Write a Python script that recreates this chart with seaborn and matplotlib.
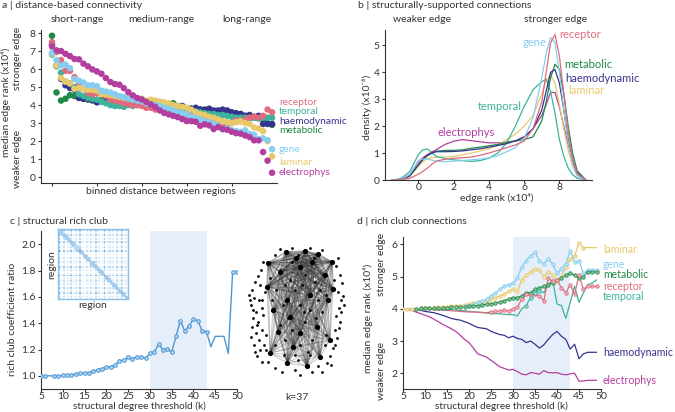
import numpy as np
import pandas as pd
import matplotlib
matplotlib.use('Agg')
import matplotlib.pyplot as plt
import matplotlib.colors as mcolors
import seaborn as sns
from itertools import combinations

W, H = 675, 412

# ---------------- data ----------------
maps = ['receptor', 'temporal', 'haemodynamic', 'metabolic', 'gene', 'laminar', 'electrophys']
colors = {'receptor': '#e06b7d', 'temporal': '#3db39b', 'haemodynamic': '#36338f',
          'metabolic': '#1f8a48', 'gene': '#86cdf0', 'laminar': '#e8c96b',
          'electrophys': '#b23f9f'}

# panel a: median edge rank per distance bin (x10^4)
dist_bin = list(range(50))
a_receptor = [7.5, 6.95, 6.5, 5.9, 5.9, 5.55, 5.2, 4.9, 4.7, 4.6, 4.65, 4.7, 4.5, 4.3, 4.25, 4.2, 4.1,
              4.05, 4.0, 4.0, 3.95, 3.85, 3.85, 3.75, 3.8, 3.65, 3.55, 3.5, 3.4, 3.35, 3.3, 3.45, 3.45,
              3.3, 3.2, 3.15, 3.05, 3.0, 2.95, 2.85, 3.0, 3.15, 3.1, 3.2, 3.3, 3.35, 3.3, 3.4, 3.75, 3.6]
a_temporal = [6.8, 6.15, 5.8, 5.3, 5.2, 5.0, 4.6, 4.5, 4.4, 4.35, 4.3, 4.2, 4.1, 4.0, 3.95, 3.95, 3.9,
              4.0, 3.95, 4.0, 4.05, 4.0, 4.0, 3.95, 3.9, 3.95, 3.85, 3.8, 3.75, 3.75, 3.7, 3.7, 3.65,
              3.6, 3.55, 3.5, 3.5, 3.45, 3.45, 3.4, 3.35, 3.3, 3.3, 3.3, 3.25, 3.3, 3.25, 3.3, 3.3, 3.3]
a_haemodynamic = [7.35, 6.2, 5.45, 5.1, 4.95, 4.85, 4.4, 4.35, 4.35, 4.3, 4.15, 4.2, 4.3, 4.2, 4.2, 4.15,
                  4.1, 4.15, 4.2, 4.1, 4.0, 4.0, 4.05, 4.0, 4.0, 3.95, 3.95, 4.0, 3.9, 3.95, 3.8, 3.8,
                  3.85, 3.75, 3.75, 3.8, 3.7, 3.7, 3.75, 3.7, 3.6, 3.55, 3.5, 3.4, 3.45, 3.35, 3.4,
                  2.95, 2.95, 2.95]
a_metabolic = [7.85, 4.7, 4.25, 4.35, 4.55, 4.5, 4.4, 4.35, 4.3, 4.25, 4.25, 4.3, 4.35, 4.3, 4.25, 4.2,
               4.15, 4.1, 4.1, 4.05, 4.1, 4.05, 4.0, 4.0, 3.95, 3.95, 4.05, 4.1, 3.95, 3.85, 3.8, 3.8,
               3.75, 3.75, 3.7, 3.7, 3.65, 3.6, 3.6, 3.55, 3.55, 3.5, 3.5, 3.4, 3.35, 3.3, 3.3, 3.2,
               3.0, 2.9]
a_gene = [6.9, 6.5, 6.2, 6.25, 6.05, 5.45, 5.35, 5.25, 5.1, 5.1, 5.05, 4.8, 4.75, 4.7, 4.6, 4.5, 4.45,
          4.35, 4.3, 4.25, 4.2, 4.1, 4.05, 4.0, 3.95, 3.85, 3.8, 3.7, 3.6, 3.55, 3.5, 3.35, 3.3, 3.2,
          3.1, 3.05, 2.95, 2.85, 2.65, 2.7, 2.6, 2.55, 2.5, 2.6, 2.4, 2.35, 2.1, 2.15, 2.05, 1.55]
a_laminar = [6.85, 6.2, 5.5, 5.3, 5.2, 4.9, 4.95, 4.9, 4.85, 4.85, 4.8, 4.6, 4.6, 4.55, 4.5, 4.45, 4.4,
             4.4, 4.35, 4.3, 4.35, 4.25, 4.3, 4.25, 4.2, 4.15, 4.1, 4.0, 3.95, 3.9, 3.85, 3.75, 3.6,
             3.5, 3.45, 3.35, 3.3, 3.2, 3.1, 3.05, 3.0, 3.05, 3.1, 3.0, 2.95, 2.75, 2.7, 2.55, 2.0, 1.15]
a_electrophys = [7.26, 7.04, 7.0, 6.85, 6.72, 6.56, 6.54, 6.3, 6.15, 5.98, 5.87, 5.74, 5.5, 5.28, 5.17,
                 5.13, 4.94, 4.72, 4.54, 4.39, 4.31, 4.17, 4.04, 3.9, 3.7, 3.56, 3.48, 3.4, 3.33, 3.22,
                 3.11, 3.11, 3.07, 2.85, 2.93, 2.87, 2.67, 2.78, 2.67, 2.63, 2.52, 2.44, 2.41, 2.31,
                 2.22, 2.04, 2.04, 1.39, 0.91, 0.24]

# panel b: density of edge rank for structurally-supported edges (x10^-6)
edge_rank = [-1.5, -1, -0.5, 0, 0.25, 0.5, 0.75, 1, 1.5, 2, 2.5, 3, 3.5, 4, 4.5, 5, 5.5, 6, 6.5,
             7, 7.25, 7.5, 7.75, 8, 8.25, 8.5, 8.75, 9, 9.5]
b_receptor = [0, 0.01, 0.06, 0.22, 0.32, 0.44, 0.58, 0.7, 0.77, 0.81, 0.83, 0.85, 0.92, 1.0, 1.1,
              1.2, 1.3, 1.45, 1.9, 2.9, 4.0, 5.1, 5.4, 4.6, 3.2, 1.8, 0.8, 0.25, 0.0]
b_gene = [0, 0.02, 0.2, 0.72, 0.78, 0.78, 0.74, 0.7, 0.68, 0.7, 0.72, 0.75, 0.78, 0.82, 0.9, 1.05,
          1.2, 1.55, 2.3, 3.8, 4.7, 5.3, 5.1, 4.0, 2.6, 1.4, 0.6, 0.15, 0.0]
b_metabolic = [0, 0.02, 0.15, 0.56, 0.75, 0.9, 1.0, 1.07, 1.1, 1.1, 1.12, 1.18, 1.22, 1.27, 1.32,
               1.4, 1.45, 1.5, 1.6, 2.2, 2.9, 3.8, 4.3, 4.1, 3.2, 2.0, 1.0, 0.35, 0.0]
b_haemodynamic = [0, 0.02, 0.15, 0.58, 0.78, 0.92, 1.0, 1.05, 1.05, 1.06, 1.08, 1.12, 1.16, 1.22,
                  1.28, 1.35, 1.45, 1.6, 1.9, 2.6, 3.3, 4.0, 4.1, 3.6, 2.6, 1.5, 0.7, 0.25, 0.0]
b_laminar = [0, 0.02, 0.12, 0.5, 0.68, 0.8, 0.83, 0.84, 0.86, 0.88, 0.93, 1.0, 1.08, 1.16, 1.3, 1.5,
             1.7, 2.0, 2.4, 3.2, 3.7, 3.9, 3.6, 2.8, 1.9, 1.1, 0.5, 0.2, 0.0]
b_temporal = [0, 0.05, 0.31, 0.95, 1.12, 1.15, 1.02, 0.88, 0.8, 0.75, 0.72, 0.69, 0.72, 0.81, 1.0,
              1.37, 2.0, 2.73, 3.35, 3.65, 3.74, 3.28, 2.48, 1.5, 0.88, 0.44, 0.2, 0.07, 0.0]
b_electrophys = [0, 0.02, 0.2, 0.69, 0.82, 0.94, 1.04, 1.12, 1.32, 1.44, 1.5, 1.46, 1.42, 1.38, 1.38,
                 1.4, 1.45, 1.6, 1.9, 2.4, 2.8, 3.25, 3.25, 2.7, 2.0, 1.3, 0.7, 0.3, 0.0]

# panel c: structural rich club coefficient ratio
degree_k = list(range(5, 51))
rc_ratio = [1.0, 1.0, 1.0, 1.0, 1.0, 1.003, 1.005, 1.008, 1.013, 1.018, 1.02, 1.025, 1.035, 1.045,
            1.055, 1.065, 1.07, 1.08, 1.115, 1.12, 1.14, 1.13, 1.145, 1.14, 1.135, 1.17, 1.18, 1.24,
            1.2, 1.205, 1.18, 1.3, 1.42, 1.34, 1.38, 1.43, 1.42, 1.34, 1.335, 1.22, 1.3, 1.3, 1.3,
            1.17, 1.79, 1.79]
rc_marked = [k for k in degree_k if k != 7 and not (44 <= k <= 48)]

# inset connectivity matrix (node strengths)
node_strength = [0.9, 0.2, 0.1, 0.5, 0.1, 0.3, 0.05, 0.6, 0.1, 0.2, 0.4, 0.1, 0.7, 0.1, 0.2, 0.05,
                 0.3, 0.1, 0.5, 0.2, 0.1, 0.6, 0.1, 0.3, 0.05, 0.2, 0.8, 0.1, 0.2, 0.4, 0.1, 0.3,
                 0.05, 0.5, 0.1, 0.2, 0.6, 0.1, 0.3, 0.2]

# rich club network at k=37 (node layout, pixel-like units)
hub_x = [268, 286, 305, 318, 332, 325, 267, 333, 328, 287, 300, 310, 290, 278, 317, 300, 330, 270,
         287, 307, 320, 293, 273, 296, 312, 280]
hub_y = [263, 252, 251, 254, 262, 275, 287, 289, 300, 300, 267, 295, 317, 332, 327, 333, 340, 353,
         363, 366, 357, 347, 310, 258, 262, 272]
other_x = [252, 254, 251, 256, 253, 258, 252, 256, 259, 254, 260, 257, 262, 250, 255, 258, 261, 263,
           260, 262, 263, 262, 264, 275, 280, 292, 298, 310, 314, 322, 338, 336, 340, 342, 338, 341,
           339, 336, 340, 335, 337, 333, 330, 327, 275, 282, 295, 300, 312, 318, 268, 280, 292, 305,
           315, 320, 285, 295, 300, 310, 322, 280, 292, 305, 312, 300, 285, 275, 295, 310, 325, 290,
           318, 302, 283, 249, 253, 257, 251, 255, 259, 265, 266, 343, 341, 344, 339, 335, 331, 272,
           288, 304, 316, 326, 284, 298, 308, 276, 262, 266, 270, 322, 326, 334]
other_y = [290, 298, 305, 312, 318, 322, 327, 333, 340, 345, 350, 356, 362, 300, 282, 276, 270, 262,
           285, 300, 315, 330, 345, 255, 249, 248, 255, 248, 258, 250, 258, 266, 275, 283, 292, 300,
           308, 316, 322, 330, 338, 348, 356, 363, 368, 372, 370, 375, 372, 366, 362, 270, 262, 275,
           282, 290, 285, 290, 305, 310, 312, 325, 330, 322, 340, 345, 340, 345, 355, 355, 345, 280,
           300, 285, 305, 295, 310, 325, 337, 352, 300, 292, 335, 296, 312, 305, 328, 345, 365, 300,
           318, 312, 318, 295, 355, 360, 352, 290, 308, 350, 278, 372, 335, 280]

# panel d: rich club connections, median edge rank (x10^4)
d_k = list(range(5, 50))
d_laminar = [4.0, 4.0, 4.0, 4.0, 4.01, 4.02, 4.03, 4.04, 4.05, 4.06, 4.07, 4.08, 4.1, 4.1, 4.12,
             4.14, 4.18, 4.2, 4.22, 4.25, 4.3, 4.35, 4.4, 4.45, 4.55, 4.6, 4.55, 4.9, 5.05, 5.15,
             5.25, 5.2, 5.0, 5.15, 5.05, 4.85, 5.0, 5.3, 5.55, 5.65, 6.05, 5.9, 5.9, 5.9, 5.9]
d_gene = [4.0, 4.0, 4.0, 4.0, 4.0, 4.01, 4.01, 4.02, 4.03, 4.04, 4.05, 4.06, 4.07, 4.08, 4.09, 4.1,
          4.15, 4.2, 4.25, 4.3, 4.4, 4.5, 4.6, 4.7, 4.75, 4.8, 4.95, 5.3, 5.5, 5.65, 5.75, 5.5, 5.4,
          5.55, 5.4, 5.1, 5.25, 5.4, 5.8, 5.45, 5.5, 5.1, 5.2, 5.2, 5.2]
d_metabolic = [4.0, 4.0, 4.0, 4.0, 4.01, 4.02, 4.02, 4.03, 4.03, 4.04, 4.04, 4.05, 4.06, 4.07, 4.07,
               4.08, 4.09, 4.1, 4.12, 4.14, 4.15, 4.18, 4.21, 4.25, 4.3, 4.35, 4.35, 4.4, 4.5, 4.5,
               4.6, 4.65, 4.7, 4.75, 4.8, 4.9, 4.95, 5.05, 5.1, 5.05, 4.95, 5.0, 5.15, 5.15, 5.15]
d_receptor = [4.0, 4.0, 4.0, 3.99, 3.99, 3.98, 3.98, 3.97, 3.96, 3.96, 3.95, 3.94, 3.93, 3.92, 3.91,
              3.9, 3.9, 3.89, 3.89, 3.88, 3.9, 3.92, 3.93, 3.95, 3.93, 4.0, 4.05, 4.3, 4.45, 4.4,
              4.45, 4.4, 4.25, 4.95, 4.85, 4.9, 4.65, 4.5, 4.75, 4.45, 5.05, 4.6, 4.7, 4.7, 4.7]
d_temporal = [4.0, 4.0, 4.0, 4.0, 4.0, 4.0, 4.0, 3.99, 3.99, 3.98, 3.98, 3.97, 3.96, 3.95, 3.94,
              3.92, 3.91, 3.9, 3.88, 3.87, 3.85, 3.85, 3.84, 3.83, 3.82, 3.82, 3.78, 4.0, 4.1, 4.35,
              4.5, 4.55, 4.5, 4.75, 4.9, 4.15, 4.1, 3.7, 4.2, 4.7, 4.2, 4.5, 4.75, 4.8, 4.9]
d_haemodynamic = [4.0, 4.0, 3.99, 3.98, 3.95, 3.92, 3.9, 3.88, 3.84, 3.8, 3.75, 3.7, 3.67, 3.65,
                  3.6, 3.55, 3.48, 3.42, 3.4, 3.38, 3.3, 3.25, 3.2, 3.18, 3.1, 3.15, 3.08, 3.05,
                  2.95, 3.0, 2.9, 2.78, 2.88, 3.05, 3.2, 3.3, 3.15, 3.05, 2.75, 2.9, 2.45, 2.6, 2.65,
                  2.65, 2.65]
d_electrophys = [4.0, 3.98, 3.95, 3.9, 3.85, 3.8, 3.75, 3.68, 3.6, 3.52, 3.45, 3.38, 3.3, 3.18,
                 3.05, 2.95, 2.78, 2.6, 2.55, 2.5, 2.4, 2.3, 2.2, 2.15, 2.1, 2.12, 2.05, 1.97, 1.95,
                 2.02, 2.0, 1.97, 2.08, 2.02, 2.01, 2.02, 1.97, 1.95, 1.98, 2.0, 1.75, 1.76, 1.78,
                 1.78, 1.78]
d_marked = {'laminar': (5, 46), 'gene': (19, 49), 'metabolic': (8, 49), 'receptor': (25, 49),
            'temporal': (33, 36)}

# ---------------- style ----------------
sns.set_theme(style='white')
plt.rcParams['font.family'] = ['Lato', 'DejaVu Sans']
plt.rcParams.update({'axes.edgecolor': '#333333', 'axes.linewidth': 0.8,
                     'xtick.color': '#333333', 'ytick.color': '#333333',
                     'xtick.labelsize': 7.5, 'ytick.labelsize': 7.5,
                     'xtick.major.size': 2, 'ytick.major.size': 2.5,
                     'xtick.major.width': 0.8, 'ytick.major.width': 0.8,
                     'xtick.major.pad': 0.5, 'ytick.major.pad': 1.5,
                     'xtick.bottom': True, 'ytick.left': True,
                     'text.color': '#333333'})
TXT = 7.5

fig = plt.figure(figsize=(6.75, 4.12), dpi=100)


def px_axes(x0, y0, x1, y1):
    return fig.add_axes([x0 / W, 1 - y1 / H, (x1 - x0) / W, (y1 - y0) / H])


def ftext(x, y, s, **kw):
    kw.setdefault('fontsize', TXT)
    kw.setdefault('va', 'center')
    fig.text(x / W, 1 - y / H, s, **kw)


def light(c, f=0.55):
    r, g, b = mcolors.to_rgb(c)
    return (r + (1 - r) * f, g + (1 - g) * f, b + (1 - b) * f)


def clean(ax):
    sns.despine(ax=ax)
    ax.set_xlabel('')
    ax.set_ylabel('')


# ---------------- panel a ----------------
ax_a = px_axes(41, 30, 277, 183)
a_series = {'receptor': a_receptor, 'temporal': a_temporal, 'haemodynamic': a_haemodynamic,
            'metabolic': a_metabolic, 'gene': a_gene, 'laminar': a_laminar,
            'electrophys': a_electrophys}
a_order = ['metabolic', 'haemodynamic', 'temporal', 'receptor', 'laminar', 'gene', 'electrophys']
a_df = pd.DataFrame({'bin': dist_bin * len(a_order),
                     'rank': sum([a_series[m] for m in a_order], []),
                     'map': np.repeat(a_order, len(dist_bin))})
sns.scatterplot(data=a_df, x='bin', y='rank', hue='map', palette=colors, s=22, linewidth=0,
                legend=False, ax=ax_a)
ax_a.set_xlim(-2.45, 50.1)
ax_a.set_ylim(-0.33, 8.17)
ax_a.set_xticks([0, 10, 20, 30, 40])
ax_a.set_xticklabels([])
ax_a.set_yticks(range(9))
clean(ax_a)

ftext(2, 6, 'a | distance-based connectivity')
ftext(77, 19, 'short-range', ha='center')
ftext(161, 19, 'medium-range', ha='center')
ftext(247, 19, 'long-range', ha='center')
ftext(161, 192, 'binned distance between regions', ha='center')
ftext(6, 102, 'median edge rank (x10⁴)', rotation=90, ha='center')
ftext(18, 58, 'stronger edge', rotation=90, ha='center')
ftext(18, 159, 'weaker edge', rotation=90, ha='center')
for m, y in zip(maps, [102.5, 111.5, 121, 130.5, 150, 162, 173]):
    ftext(279, y, m, color=colors[m], fontsize=7.3)

# ---------------- panel b ----------------
ax_b = px_axes(385, 30, 592, 180)
b_series = {'receptor': b_receptor, 'temporal': b_temporal, 'haemodynamic': b_haemodynamic,
            'metabolic': b_metabolic, 'gene': b_gene, 'laminar': b_laminar,
            'electrophys': b_electrophys}
b_order = ['electrophys', 'laminar', 'temporal', 'metabolic', 'haemodynamic', 'gene', 'receptor']
b_df = pd.DataFrame({'rank': edge_rank * len(b_order),
                     'density': sum([b_series[m] for m in b_order], []),
                     'map': np.repeat(b_order, len(edge_rank))})
sns.lineplot(data=b_df, x='rank', y='density', hue='map', palette=colors, linewidth=0.9,
             legend=False, ax=ax_b)
ax_b.set_xlim(-1.9, 9.85)
ax_b.set_ylim(0, 5.57)
ax_b.set_xticks([0, 2, 4, 6, 8])
ax_b.set_yticks(range(6))
clean(ax_b)

ftext(358, 6, 'b | structurally-supported connections')
ftext(422, 19, 'weaker edge', ha='center')
ftext(556, 19, 'stronger edge', ha='center')
ftext(497, 198, 'edge rank (x10⁴)', ha='center')
ftext(367, 107, 'density (x10⁻⁶)', rotation=90, ha='center')
for m, (x, y) in {'receptor': (559, 35), 'gene': (523, 43), 'metabolic': (564, 65),
                  'haemodynamic': (565, 78), 'laminar': (568, 91), 'temporal': (478, 107),
                  'electrophys': (437, 133)}.items():
    ftext(x, y, m, color=colors[m], fontsize=8)

# ---------------- panel c ----------------
blue = '#4a97d4'
ax_c = px_axes(41, 231, 237, 389)
ax_c.axvspan(30, 43, color='#e6eff9', lw=0, zorder=0)
sns.lineplot(x=degree_k, y=rc_ratio, color=blue, linewidth=1.0, ax=ax_c)
mk = [k in rc_marked for k in degree_k]
sns.scatterplot(x=np.array(degree_k)[mk], y=np.array(rc_ratio)[mk], color=light(blue, 0.6),
                edgecolor=blue, linewidth=0.7, s=7, ax=ax_c, zorder=3)
ax_c.set_xlim(5, 50)
ax_c.set_ylim(0.9, 2.1)
ax_c.set_xticks(range(5, 51, 5))
ax_c.set_yticks([1.0, 1.2, 1.4, 1.6, 1.8, 2.0])
ax_c.set_yticklabels(['1.0', '1.2', '1.4', '1.6', '1.8', '2.0'])
clean(ax_c)

ftext(10, 221, 'c | structural rich club')
ftext(139, 406, 'structural degree threshold (k)', ha='center', fontsize=7.2)
ftext(13, 319, 'rich club coefficient ratio', rotation=90, ha='center')

# inset matrix
ax_in = px_axes(58, 229, 128, 299)
s = np.array(node_strength)
mat = np.outer(s, s) * 1.5
n = len(s)
for i in range(n):
    for j in range(max(0, i - 1), min(n, i + 2)):
        mat[i, j] = max(mat[i, j], 0.45)
mat[0:3, 0:3] = 0.45
mat[18:21, 18:21] = 0.45
mat[9:12, 9:12] = 0.35
cmap = mcolors.LinearSegmentedColormap.from_list('wb', ['#ffffff', '#3b8fd2'])
sns.heatmap(mat, cmap=cmap, vmin=0, vmax=1, cbar=False, xticklabels=False, yticklabels=False,
            square=False, ax=ax_in)
for sp in ax_in.spines.values():
    sp.set_visible(True)
    sp.set_color('#8cc0e8')
    sp.set_linewidth(1.0)
ftext(52, 265, 'region', rotation=90, ha='center')
ftext(93, 305, 'region', ha='center')

# rich club network
ax_n = px_axes(245, 243, 345, 378)
for i, j in combinations(range(len(hub_x)), 2):
    top = hub_y[i] < 300 and hub_y[j] < 300
    ax_n.plot([hub_x[i], hub_x[j]], [hub_y[i], hub_y[j]], color='#3a3a3a',
              alpha=0.42 if top else 0.26, lw=1.1 if top else 0.8, zorder=1)
sns.scatterplot(x=other_x, y=other_y, color='black', s=4, linewidth=0, ax=ax_n, zorder=2)
sns.scatterplot(x=hub_x, y=hub_y, color='black', s=14, linewidth=0, ax=ax_n, zorder=3)
ax_n.set_xlim(245, 345)
ax_n.set_ylim(378, 243)
ax_n.axis('off')
ftext(297, 398, 'k=37', ha='center')

# ---------------- panel d ----------------
ax_d = px_axes(403, 237, 601, 389)
ax_d.axvspan(30, 43, color='#e6eff9', lw=0, zorder=0)
d_series = {'receptor': d_receptor, 'temporal': d_temporal, 'haemodynamic': d_haemodynamic,
            'metabolic': d_metabolic, 'gene': d_gene, 'laminar': d_laminar,
            'electrophys': d_electrophys}
d_order = ['electrophys', 'haemodynamic', 'temporal', 'receptor', 'metabolic', 'laminar', 'gene']
d_df = pd.DataFrame({'k': d_k * len(d_order),
                     'rank': sum([d_series[m] for m in d_order], []),
                     'map': np.repeat(d_order, len(d_k))})
sns.lineplot(data=d_df, x='k', y='rank', hue='map', palette=colors, linewidth=0.9,
             legend=False, ax=ax_d)
for m, (k0, k1) in d_marked.items():
    ks = [k for k in d_k if k0 <= k <= k1]
    vals = [d_series[m][d_k.index(k)] for k in ks]
    sns.scatterplot(x=ks, y=vals, color=light(colors[m], 0.5), edgecolor=colors[m],
                    linewidth=0.6, s=6, ax=ax_d, zorder=3)
ax_d.set_xlim(5, 50)
ax_d.set_ylim(1.51, 6.23)
ax_d.set_xticks(range(5, 51, 5))
ax_d.set_yticks(range(2, 7))
clean(ax_d)

ftext(357, 221, 'd | rich club connections')
ftext(501, 406, 'structural degree threshold (k)', ha='center', fontsize=7.2)
ftext(368, 318, 'median edge rank (x10⁴)', rotation=90, ha='center')
ftext(382, 264, 'stronger edge', rotation=90, ha='center')
ftext(382, 371, 'weaker edge', rotation=90, ha='center')
for m, y in {'laminar': 250, 'gene': 265, 'metabolic': 275, 'receptor': 287, 'temporal': 297,
             'haemodynamic': 353, 'electrophys': 380}.items():
    ftext(603, y, m, color=colors[m], fontsize=7.6)

fig.savefig('out.png', dpi=100)
